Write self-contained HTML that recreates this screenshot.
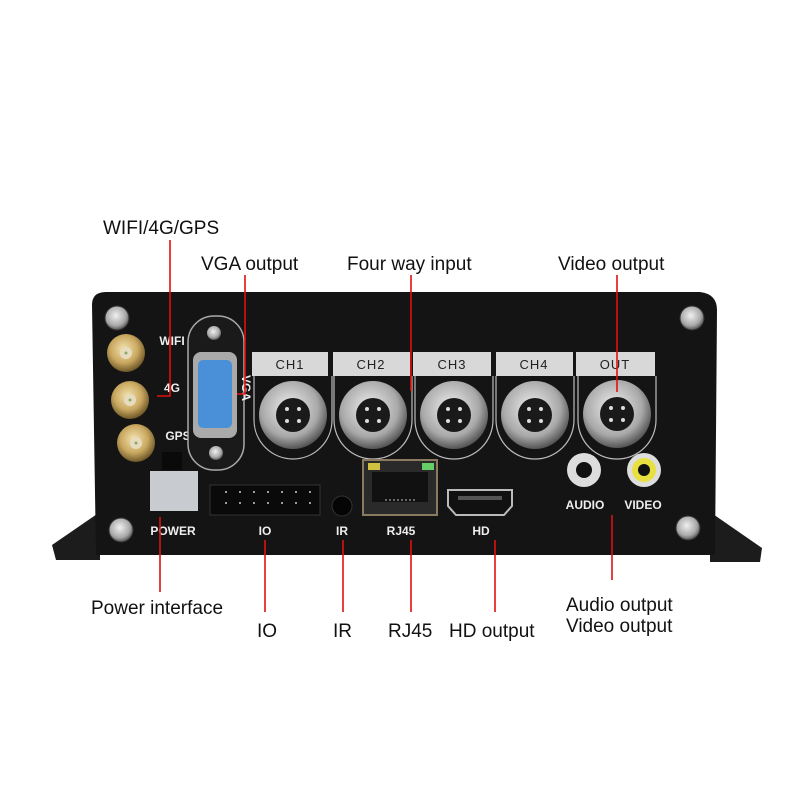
<!DOCTYPE html>
<html><head><style>
body{margin:0;background:#fff;}
svg{display:block;font-family:"Liberation Sans",Arial,sans-serif;}
.lab{font-size:19px;fill:#111;}
.w{fill:#eee;font-weight:bold;font-size:12px;text-anchor:middle;}
.ch{fill:#222;font-size:13px;text-anchor:middle;letter-spacing:1px;}
.r{stroke:#e01010;stroke-width:1.6;fill:none;}
</style></head><body>
<svg width="800" height="800" viewBox="0 0 800 800">
<defs>
<radialGradient id="gold" cx="45%" cy="40%" r="60%"><stop offset="0" stop-color="#f3e3b0"/><stop offset="0.6" stop-color="#c9a860"/><stop offset="1" stop-color="#6e5728"/></radialGradient>
<radialGradient id="met" cx="45%" cy="40%" r="60%"><stop offset="0" stop-color="#f0f0f0"/><stop offset="0.7" stop-color="#a8a8a8"/><stop offset="1" stop-color="#555"/></radialGradient>
<g id="pins" fill="#ddd"><circle cx="-6" cy="-6" r="2"/><circle cx="6" cy="-6" r="2"/><circle cx="-6" cy="6" r="2"/><circle cx="6" cy="6" r="2"/></g>
</defs>
<polygon points="52,545 100,512 100,560 56,560" fill="#1c1c1c"/>
<polygon points="710,512 762,548 760,562 710,562" fill="#1c1c1c"/>
<path d="M92,305 Q92,292 106,292 L700,292 Q717,294 717,310 L715,555 L96,555 Z" fill="#141414"/>
<g fill="url(#met)" stroke="#333"><circle cx="117" cy="318" r="12"/><circle cx="692" cy="318" r="12"/><circle cx="121" cy="530" r="12"/><circle cx="688" cy="528" r="12"/></g>
<g fill="url(#gold)"><circle cx="126" cy="353" r="19"/><circle cx="130" cy="400" r="19"/><circle cx="136" cy="443" r="19"/></g>
<g fill="#e8dcc0"><circle cx="126" cy="353" r="6"/><circle cx="130" cy="400" r="6"/><circle cx="136" cy="443" r="6"/></g>
<g fill="#8a6"><circle cx="126" cy="353" r="1.5"/><circle cx="130" cy="400" r="1.5"/><circle cx="136" cy="443" r="1.5"/></g>
<text x="172" y="345" class="w">WIFI</text><text x="172" y="392" class="w">4G</text><text x="178" y="440" class="w">GPS</text>
<rect x="188" y="316" width="56" height="154" rx="26" fill="#1a1a1a" stroke="#aaa" stroke-width="1.5"/>
<rect x="193" y="352" width="44" height="86" rx="8" fill="#aaa"/>
<rect x="198" y="360" width="34" height="68" rx="5" fill="#4a90d8"/>
<circle cx="214" cy="333" r="7" fill="url(#met)"/><circle cx="216" cy="453" r="7" fill="url(#met)"/>
<text transform="translate(242,388) rotate(90)" fill="#eee" font-size="12" font-weight="bold" text-anchor="middle">VGA</text>
<g fill="none" stroke="#bbb" stroke-width="1.2">
<path d="M254,376 V420 A39,39 0 0 0 332,420 V376"/>
<path d="M334,376 V420 A39,39 0 0 0 412,420 V376"/>
<path d="M415,376 V420 A39,39 0 0 0 493,420 V376"/>
<path d="M496,376 V420 A39,39 0 0 0 574,420 V376"/>
<path d="M578,376 V420 A39,39 0 0 0 656,420 V376"/>
</g>
<rect x="252" y="352" width="76" height="24" fill="#d8d8d8"/><text x="290" y="369" class="ch">CH1</text>
<rect x="333" y="352" width="77" height="24" fill="#d8d8d8"/><text x="371" y="369" class="ch">CH2</text>
<rect x="413" y="352" width="78" height="24" fill="#d8d8d8"/><text x="452" y="369" class="ch">CH3</text>
<rect x="496" y="352" width="77" height="24" fill="#d8d8d8"/><text x="534" y="369" class="ch">CH4</text>
<rect x="576" y="352" width="79" height="24" fill="#d8d8d8"/><text x="615" y="369" class="ch">OUT</text>
<g fill="url(#met)"><circle cx="293" cy="415" r="34"/><circle cx="373" cy="415" r="34"/><circle cx="454" cy="415" r="34"/><circle cx="535" cy="415" r="34"/><circle cx="617" cy="414" r="34"/></g>
<g fill="#1a1a1a"><circle cx="293" cy="415" r="17"/><circle cx="373" cy="415" r="17"/><circle cx="454" cy="415" r="17"/><circle cx="535" cy="415" r="17"/><circle cx="617" cy="414" r="17"/></g>
<use href="#pins" x="293" y="415"/><use href="#pins" x="373" y="415"/><use href="#pins" x="454" y="415"/><use href="#pins" x="535" y="415"/><use href="#pins" x="617" y="414"/>
<circle cx="584" cy="470" r="17" fill="#ddd"/><circle cx="584" cy="470" r="8" fill="#111"/>
<circle cx="644" cy="470" r="17" fill="#ddd"/><circle cx="644" cy="470" r="12" fill="#e8e040"/><circle cx="644" cy="470" r="6" fill="#111"/>
<text x="585" y="509" class="w">AUDIO</text><text x="643" y="509" class="w">VIDEO</text>
<rect x="150" y="471" width="48" height="40" fill="#c8ccd0"/>
<rect x="162" y="452" width="20" height="18" fill="#0a0a0a"/>
<text x="173" y="535" class="w">POWER</text>
<rect x="210" y="485" width="110" height="30" fill="#0a0a0a" stroke="#333"/>
<g fill="#ccc"><circle cx="226" cy="492" r="1"/><circle cx="240" cy="492" r="1"/><circle cx="254" cy="492" r="1"/><circle cx="268" cy="492" r="1"/><circle cx="282" cy="492" r="1"/><circle cx="296" cy="492" r="1"/><circle cx="310" cy="492" r="1"/><circle cx="226" cy="503" r="1"/><circle cx="240" cy="503" r="1"/><circle cx="254" cy="503" r="1"/><circle cx="268" cy="503" r="1"/><circle cx="282" cy="503" r="1"/><circle cx="296" cy="503" r="1"/><circle cx="310" cy="503" r="1"/></g>
<text x="265" y="535" class="w">IO</text>
<circle cx="342" cy="506" r="10" fill="#050505" stroke="#333"/>
<text x="342" y="535" class="w">IR</text>
<rect x="363" y="460" width="74" height="55" fill="#2a2a2a" stroke="#8a7a60" stroke-width="2"/>
<rect x="372" y="472" width="56" height="30" fill="#111"/>
<rect x="368" y="463" width="12" height="7" fill="#cfc040"/><rect x="422" y="463" width="12" height="7" fill="#6c6"/>
<line x1="385" y1="500" x2="415" y2="500" stroke="#bbb" stroke-dasharray="2 2"/>
<text x="401" y="535" class="w">RJ45</text>
<path d="M448,490 L512,490 L512,506 L504,515 L456,515 L448,506 Z" fill="#111" stroke="#bbb" stroke-width="2"/>
<rect x="458" y="496" width="44" height="4" fill="#555"/>
<text x="481" y="535" class="w">HD</text>
<path class="r" d="M170,240 V396 H157"/>
<path class="r" d="M245,275 V394 H237"/>
<path class="r" d="M411,275 V391"/>
<path class="r" d="M617,275 V392"/>
<path class="r" d="M160,517 V592"/>
<path class="r" d="M265,540 V612"/>
<path class="r" d="M343,540 V612"/>
<path class="r" d="M411,540 V612"/>
<path class="r" d="M495,540 V612"/>
<path class="r" d="M612,515 V580"/>
<text x="103" y="234" class="lab">WIFI/4G/GPS</text>
<text x="201" y="270" class="lab">VGA output</text>
<text x="347" y="270" class="lab">Four way input</text>
<text x="558" y="270" class="lab">Video output</text>
<text x="91" y="614" class="lab">Power interface</text>
<text x="257" y="637" class="lab">IO</text>
<text x="333" y="637" class="lab">IR</text>
<text x="388" y="637" class="lab">RJ45</text>
<text x="449" y="637" class="lab">HD output</text>
<text x="566" y="611" class="lab">Audio output</text>
<text x="566" y="632" class="lab">Video output</text>
</svg>
</body></html>
